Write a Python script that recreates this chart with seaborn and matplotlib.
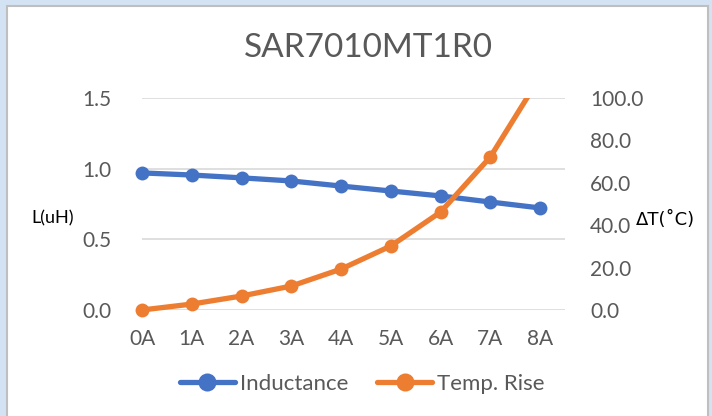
import numpy as np
import pandas as pd
import matplotlib
matplotlib.use("Agg")
import matplotlib.pyplot as plt
from matplotlib.patches import Rectangle
import seaborn as sns

currents = ["0A", "1A", "2A", "3A", "4A", "5A", "6A", "7A", "8A"]
inductance = [0.97, 0.955, 0.935, 0.913, 0.877, 0.842, 0.807, 0.764, 0.722]
temp_rise = [0.0, 2.8, 6.6, 11.3, 19.3, 30.2, 46.2, 72.2, 110.0]

left_ticks = [0.0, 0.5, 1.0, 1.5]
right_ticks = [0, 20, 40, 60, 80, 100]

sns.set_theme(style="white")
plt.rcParams["font.family"] = ["Lato", "DejaVu Sans"]

blue = "#4472C4"
orange = "#ED7D31"
grey = "#595959"

df = pd.DataFrame({"pos": np.arange(len(currents)), "L": inductance, "T": temp_rise})

fig = plt.figure(figsize=(7.12, 4.16), dpi=100, facecolor="#d3e3f3")
fig.patches.append(Rectangle((7 / 712, -0.01), 701 / 712, 1 - 6 / 416 + 0.01,
                             transform=fig.transFigure, facecolor="white",
                             edgecolor="#bfbfbf", linewidth=1.5, zorder=-5))

ax1 = fig.add_axes([142 / 712, 1 - 310 / 416, 423 / 712, 212 / 416])
ax1.set_facecolor("none")
ax2 = ax1.twinx()

sns.lineplot(data=df, x="pos", y="L", ax=ax1, color=blue, marker="o",
             markersize=10, linewidth=3.8, markeredgewidth=0, label="Inductance",
             legend=False, clip_on=False, zorder=3)
sns.lineplot(data=df, x="pos", y="T", ax=ax2, color=orange, marker="o",
             markersize=10, linewidth=3.8, markeredgewidth=0, label="Temp. Rise",
             legend=False, zorder=3)

# let the 0A marker show in full, but cut the line at the top edge
clip = Rectangle((-0.1, -0.1), 1.2, 1.1, transform=ax2.transAxes)
for ln in ax2.lines:
    ln.set_clip_path(clip)

ax1.set_xlim(0, 8.5)
ax1.set_ylim(0, 1.5)
ax2.set_ylim(0, 100)
ax1.set_xticks(df["pos"])
ax1.set_xticklabels(currents)
ax1.set_yticks(left_ticks)
ax1.set_yticklabels([f"{v:.1f}" for v in left_ticks])
ax2.set_yticks(right_ticks)
ax2.set_yticklabels([f"{v:.1f}" for v in right_ticks])

ax1.grid(axis="y", color="#d9d9d9", linewidth=1.2)
ax1.set_axisbelow(True)
for ax in (ax1, ax2):
    for s in ax.spines.values():
        s.set_visible(False)
    ax.tick_params(length=0, labelsize=15, labelcolor=grey)
ax1.tick_params(axis="y", pad=22)
ax1.tick_params(axis="x", pad=14)
ax2.tick_params(axis="y", pad=18)
ax1.set_xlabel("")
ax1.set_ylabel("")
ax2.set_ylabel("")

fig.text(53 / 712, 1 - 218 / 416, "L(uH)", ha="center", va="center",
         fontsize=13, color="black")
fig.text(665 / 712, 1 - 220 / 416, "ΔT(˚C)", ha="center", va="center",
         fontsize=13, color="black", family=["DejaVu Sans"])
fig.text(368 / 712, 1 - 48 / 416, "SAR7010MT1R0", ha="center", va="center",
         fontsize=24, color=grey)

handles = ax1.lines[:1] + ax2.lines[:1]
fig.legend(handles, ["Inductance", "Temp. Rise"], loc="center",
           bbox_to_anchor=(362 / 712, 1 - 384 / 416), ncol=2, frameon=False,
           fontsize=16, labelcolor=grey, handlelength=2.5, columnspacing=1.3,
           handletextpad=0.2, markerscale=1.3)

fig.savefig("out.png", dpi=100, facecolor=fig.get_facecolor())
